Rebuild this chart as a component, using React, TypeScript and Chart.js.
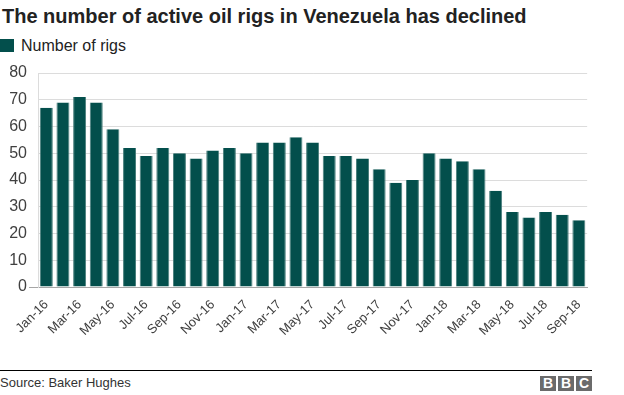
import React, { useEffect, useRef } from "react";
import { Chart, registerables } from "chart.js";

Chart.register(...registerables);

const TITLE = "The number of active oil rigs in Venezuela has declined";
const SERIES_NAME = "Number of rigs";
const SOURCE = "Source: Baker Hughes";

const months = [
  "Jan-16", "Feb-16", "Mar-16", "Apr-16", "May-16", "Jun-16", "Jul-16", "Aug-16", "Sep-16", "Oct-16", "Nov-16", "Dec-16",
  "Jan-17", "Feb-17", "Mar-17", "Apr-17", "May-17", "Jun-17", "Jul-17", "Aug-17", "Sep-17", "Oct-17", "Nov-17", "Dec-17",
  "Jan-18", "Feb-18", "Mar-18", "Apr-18", "May-18", "Jun-18", "Jul-18", "Aug-18", "Sep-18",
];

const rigs = [
  67, 69, 71, 69, 59, 52, 49, 52, 50, 48, 51, 52,
  50, 54, 54, 56, 54, 49, 49, 48, 44, 39, 40, 50,
  48, 47, 44, 36, 28, 26, 28, 27, 25,
];

const yMin = 0;
const yMax = 80;
const yStep = 10;

const BAR_COLOR = "#034f4c";
const FONT = "'Liberation Sans', Arial, Helvetica, sans-serif";

export default function App() {
  const canvasRef = useRef<HTMLCanvasElement | null>(null);

  useEffect(() => {
    const canvas = canvasRef.current;
    if (!canvas) return;
    const chart = new Chart(canvas, {
      type: "bar",
      data: {
        labels: months,
        datasets: [
          {
            label: SERIES_NAME,
            data: rigs,
            backgroundColor: BAR_COLOR,
            borderColor: "#4a7f7c",
            borderWidth: { left: 1, right: 1, top: 0, bottom: 0 },
            borderSkipped: false,
            categoryPercentage: 1,
            barPercentage: 0.78,
          },
        ],
      },
      options: {
        responsive: false,
        animation: false,
        devicePixelRatio: 1,
        layout: { padding: { top: 13, right: 8, left: 0, bottom: 0 } },
        plugins: {
          legend: { display: false },
          title: { display: false },
          tooltip: { enabled: false },
        },
        scales: {
          x: {
            offset: true,
            grid: { display: false, drawTicks: false },
            border: { display: true, color: "#a6a6a6", width: 1 },
            ticks: {
              autoSkip: false,
              maxRotation: 45,
              minRotation: 45,
              padding: 10,
              color: "#404040",
              font: { family: FONT, size: 13 },
              callback: (_v: any, i: number) => (i % 2 === 0 ? months[i] : ""),
            },
            afterFit: (s: any) => {
              s.height = 63;
            },
          },
          y: {
            min: yMin,
            max: yMax,
            ticks: {
              stepSize: yStep,
              padding: 2,
              color: "#404040",
              font: { family: FONT, size: 16 },
            },
            grid: {
              color: "#dcdcdc",
              lineWidth: 1,
              tickLength: 9,
              tickColor: (ctx: any) => (ctx.tick && ctx.tick.value === 0 ? "#a6a6a6" : "rgba(0,0,0,0)"),
            },
            border: { display: true, color: "#dcdcdc", width: 1 },
            afterFit: (s: any) => {
              s.width = 38;
            },
          },
        },
      },
    });
    return () => chart.destroy();
  }, []);

  const boxStyle: React.CSSProperties = {
    display: "inline-block",
    width: 16,
    height: 15,
    background: "#6b6b6b",
    color: "#fff",
    fontFamily: FONT,
    fontWeight: "bold",
    fontSize: 14,
    lineHeight: "15px",
    textAlign: "center",
    marginLeft: 2,
  };

  return (
    <div
      style={{
        position: "absolute",
        left: 0,
        top: 0,
        width: 624,
        height: 395,
        background: "#fff",
        fontFamily: FONT,
        overflow: "hidden",
      }}
    >
      <div
        style={{
          position: "absolute",
          left: 2,
          top: 4,
          fontSize: 20,
          fontWeight: "bold",
          color: "#222",
          whiteSpace: "nowrap",
          lineHeight: "24px",
        }}
      >
        {TITLE}
      </div>
      <div style={{ position: "absolute", left: 0, top: 39, width: 14, height: 13, background: BAR_COLOR }} />
      <div
        style={{
          position: "absolute",
          left: 21,
          top: 36,
          fontSize: 16,
          color: "#222",
          whiteSpace: "nowrap",
          lineHeight: "20px",
        }}
      >
        {SERIES_NAME}
      </div>
      <canvas
        ref={canvasRef}
        width={600}
        height={290}
        style={{ position: "absolute", left: 0, top: 60, width: 600, height: 290 }}
      />
      <div style={{ position: "absolute", left: 0, top: 370, width: 592, height: 1, background: "#000" }} />
      <div
        style={{
          position: "absolute",
          left: 0,
          top: 375,
          fontSize: 13,
          color: "#333",
          whiteSpace: "nowrap",
          lineHeight: "16px",
        }}
      >
        {SOURCE}
      </div>
      <div style={{ position: "absolute", left: 538, top: 376, whiteSpace: "nowrap", display: "flex" }}>
        <span style={boxStyle}>B</span>
        <span style={boxStyle}>B</span>
        <span style={boxStyle}>C</span>
      </div>
    </div>
  );
}
